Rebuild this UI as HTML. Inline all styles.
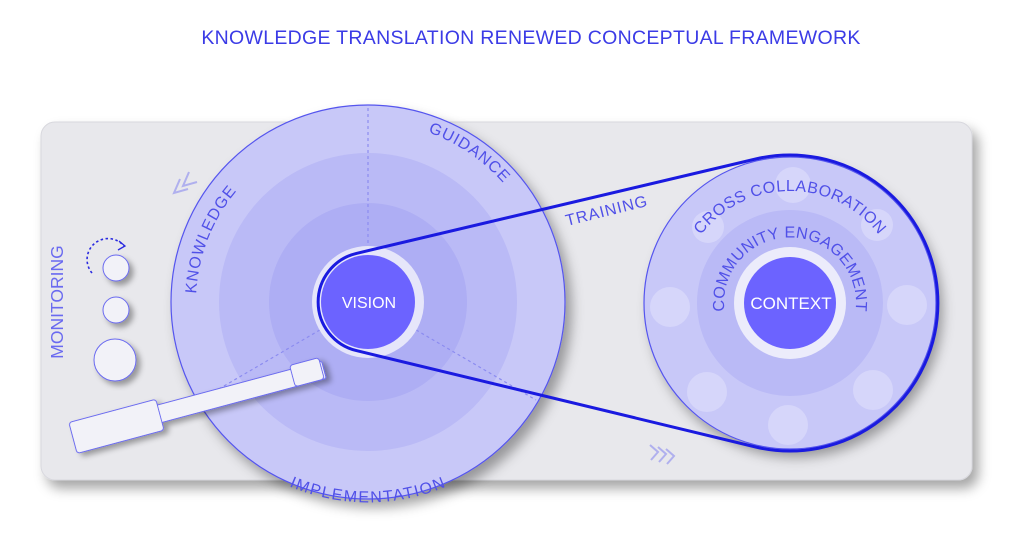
<!DOCTYPE html>
<html><head><meta charset="utf-8"><style>
html,body{margin:0;padding:0;background:#fff;}
svg{display:block;font-family:"Liberation Sans",sans-serif;}
</style></head><body>
<svg width="1024" height="551" viewBox="0 0 1024 551" xmlns="http://www.w3.org/2000/svg">
<defs>
<filter id="sh" x="-10%" y="-10%" width="130%" height="130%"><feDropShadow dx="6" dy="8" stdDeviation="6" flood-color="#000" flood-opacity="0.35"/></filter>
<filter id="sh2" x="-30%" y="-30%" width="170%" height="170%"><feDropShadow dx="4" dy="4" stdDeviation="3" flood-color="#000" flood-opacity="0.35"/></filter>
<path id="pK" d="M 368 474 A 172 172 0 0 1 368 130"/>
<path id="pG" d="M 368 122 A 180 180 0 0 1 548 302"/>
<path id="pI" d="M 178 302 A 190 190 0 0 0 558 302"/>
<path id="pC" d="M 678 303 A 112 112 0 0 1 902 303"/>
<path id="pE" d="M 728 326 A 66 66 0 1 1 852 326"/>
</defs>
<text x="531" y="44" text-anchor="middle" font-size="19.5" fill="#3b3be6" letter-spacing="0.3">KNOWLEDGE TRANSLATION  RENEWED CONCEPTUAL FRAMEWORK</text>
<rect x="41" y="122" width="931" height="358" rx="14" fill="#e8e8ec" stroke="#d8d8de" filter="url(#sh)"/>
<text transform="translate(63,302) rotate(-90)" text-anchor="middle" font-size="17.5" fill="#6a6af0">MONITORING</text>
<path d="M 92 273 A 20 20 0 0 1 124 246" fill="none" stroke="#2a2ae0" stroke-width="1.6" stroke-dasharray="2.5 2.5"/>
<path d="M 119 241 L 125 246 L 118 250" fill="none" stroke="#2a2ae0" stroke-width="1.3"/>
<g fill="#f2f2f8" stroke="#6a6af0" filter="url(#sh2)">
<circle cx="116" cy="268" r="13"/><circle cx="116" cy="310" r="13"/><circle cx="115" cy="360" r="21"/>
</g>
<path d="M 180 179 L 174 193 L 188 189 M 189 172 L 183 186 L 197 182" fill="none" stroke="#b0b0ee" stroke-width="2"/>
<g filter="url(#sh)">
<circle cx="368" cy="302" r="197" fill="#c8c8f8" stroke="#5555ee" stroke-width="1.2"/>
</g>
<circle cx="368" cy="302" r="149" fill="#babaf6"/>
<circle cx="368" cy="302" r="99" fill="#aeaef4"/>
<g stroke="#8c8cf0" stroke-width="1.2" stroke-dasharray="3 3">
<line x1="368" y1="108" x2="368" y2="250"/>
<line x1="325" y1="327" x2="200" y2="400"/>
<line x1="411" y1="327" x2="536" y2="400"/>
</g>
<text font-size="16" fill="#5050e8" letter-spacing="1"><textPath href="#pK" startOffset="62%" text-anchor="middle">KNOWLEDGE</textPath></text>
<text font-size="16" fill="#5050e8" letter-spacing="1"><textPath href="#pG" startOffset="38%" text-anchor="middle">GUIDANCE</textPath></text>
<text font-size="16" fill="#5050e8" letter-spacing="1"><textPath href="#pI" startOffset="50%" text-anchor="middle" dominant-baseline="hanging">IMPLEMENTATION</textPath></text>
<g filter="url(#sh)">
<circle cx="790" cy="303" r="146" fill="#c8c8f8" stroke="#5555ee" stroke-width="1.2"/>
</g>
<g fill="#d6d6fa">
<circle cx="670" cy="307" r="20"/><circle cx="907" cy="305" r="20"/>
<circle cx="707" cy="392" r="20"/><circle cx="873" cy="390" r="20"/>
<circle cx="788" cy="425" r="20"/><circle cx="708" cy="227" r="16"/><circle cx="877" cy="225" r="16"/><circle cx="793" cy="185" r="18"/>
</g>
<circle cx="790" cy="303" r="93" fill="#babaf6"/>
<circle cx="790" cy="303" r="56" fill="#ececfb"/>
<circle cx="790" cy="303" r="46" fill="#6c63ff"/>
<text x="791" y="309" text-anchor="middle" font-size="17" fill="#fff">CONTEXT</text>
<text font-size="16" fill="#5050e8" letter-spacing="0.5"><textPath href="#pC" startOffset="50%" text-anchor="middle">CROSS COLLABORATION</textPath></text>
<text font-size="16" fill="#5050e8" letter-spacing="0.3"><textPath href="#pE" startOffset="50%" text-anchor="middle">COMMUNITY ENGAGEMENT</textPath></text>
<circle cx="368" cy="302" r="56" fill="#e6e6fa"/>
<circle cx="368" cy="302" r="47" fill="#6c63ff"/>
<text x="369" y="308" text-anchor="middle" font-size="16" fill="#fff">VISION</text>
<path d="M 356.4 253.4 L 755.7 159 A 148 148 0 1 1 755.7 447 L 356.4 350.6 A 50 50 0 0 1 356.4 253.4 Z" fill="none" stroke="#1a1ae0" stroke-width="3"/>
<text transform="translate(567,226) rotate(-14)" font-size="16" fill="#5050e8" letter-spacing="1">TRAINING</text>
<path d="M 650 445 L 658 452 L 651 460 M 658 447 L 666 454 L 659 462 M 666 449 L 674 456 L 667 464" fill="none" stroke="#b0b0ee" stroke-width="2"/>
<g transform="translate(73,438) rotate(-15)" fill="#f2f2f8" stroke="#6a6af0" stroke-width="1" filter="url(#sh2)">
<rect x="88" y="-10" width="172" height="18" rx="2"/>
<rect x="228" y="-14" width="30" height="22" rx="3"/>
<rect x="0" y="-16" width="90" height="32" rx="3"/>
</g>
</svg>
</body></html>
